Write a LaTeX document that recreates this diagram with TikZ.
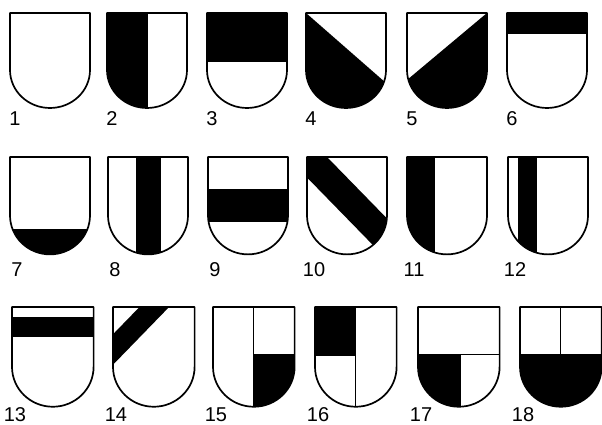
\documentclass[tikz,border=0pt]{standalone}
\usepackage{fontspec}
\setmainfont{Liberation Sans}
\tikzset{
  every picture/.style={x=1pt, y=1pt},
  outline/.style={draw=black, line width=1.7pt, line join=round},
  divider/.style={draw=black, line width=1pt},
  num/.style={font=\fontsize{20}{22}\selectfont, inner sep=0pt},
}
% shield outline, top left corner at the origin
\newcommand{\shieldpath}{(0,0) -- (80,0) -- (80,-57) arc[start angle=0, end angle=-180, x radius=40, y radius=38] -- cycle}
\newcommand{\shield}[3]{%
  \begin{scope}[shift={#1}, #2]
    \begin{scope}
      \clip \shieldpath;
      #3
    \end{scope}
    \draw[outline] \shieldpath;
  \end{scope}}

\begin{document}
\begin{tikzpicture}
  \useasboundingbox (0,0) rectangle (602,425);
  % top row
  \foreach \n/\x/\c in {
      1/10/{},
      2/107/{\fill (0,0) rectangle (41,-100);},
      3/207/{\fill (0,0) rectangle (80,-49);},
      4/306/{\fill (0,0) -- (80,-70) -- (80,-100) -- (0,-100) -- cycle;},
      5/407/{\fill (80,0) -- (0,-67) -- (0,-100) -- (80,-100) -- cycle;},
      6/507/{\fill (0,0) rectangle (80,-21);}} {
    \shield{(\x,412)}{}{\c}
    \node[num] (l\n) at (\x+5,306.5) {\n};
  }
  % middle row
  \foreach \n/\x/\c in {
      7/10/{\fill (0,-70) rectangle (80,-100);},
      8/108/{\fill (28,0) rectangle (53,-100);},
      9/208/{\fill (0,-31) rectangle (80,-63);},
      10/307/{\fill (0,0) -- (20,0) -- (110,-90) -- (90,-110) -- (0,-20) -- cycle;},
      11/407/{\fill (0,0) rectangle (28,-100);},
      12/508/{\fill (10,0) rectangle (29,-100);}} {
    \shield{(\x,268)}{yscale=1.025}{\c}
    \node[num] (l\n) at (\x+7,155.5) {\n};
  }
  % bottom row
  \foreach \n/\x/\c in {
      13/12/{\fill (0,-10) rectangle (80,-29);},
      14/113/{\fill (26,0) -- (55,0) -- (0,-55) -- (0,-26) -- cycle;},
      15/213/{\fill (40,-45) rectangle (80,-100);
              \draw[divider] (40,0) -- (40,-100) (40,-45) -- (80,-45);},
      16/315/{\fill (0,0) rectangle (40,-46);
              \draw[divider] (40,0) -- (40,-100) (0,-46) -- (40,-46);},
      17/418/{\fill (0,-45) rectangle (42,-100);
              \draw[divider] (0,-45) -- (80,-45) (42,-45) -- (42,-100);},
      18/520/{\fill (0,-45) rectangle (80,-100);
              \draw[divider] (0,-45) -- (80,-45) (40,0) -- (40,-45);}} {
    \shield{(\x,118)}{xscale=1.02, yscale=1.05}{\c}
    \node[num] (l\n) at (\x+3,10.5) {\n};
  }
\end{tikzpicture}
\end{document}
